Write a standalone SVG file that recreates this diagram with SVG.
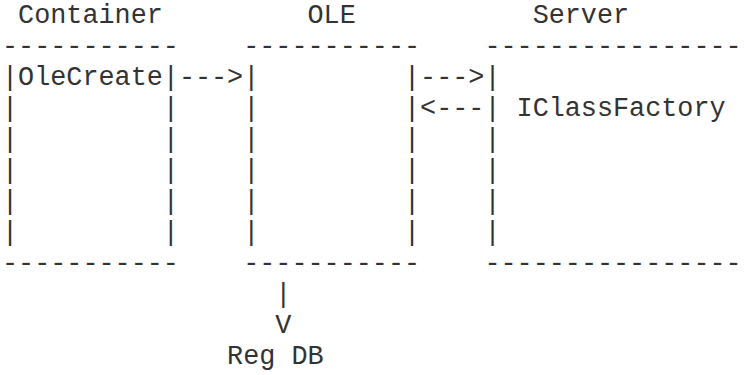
<svg xmlns="http://www.w3.org/2000/svg" width="746" height="375" viewBox="0 0 746 375">
<style>
  text { font-family: "Liberation Mono", "Courier New", monospace; font-size: 26.8px; fill: #333; white-space: pre; }
</style>
<rect width="746" height="375" fill="#ffffff"/>
<g id="container">
  <text x="18.08" y="23">Container</text>
  <text x="2" y="54">-----------</text>
  <text x="2" y="85">|OleCreate|</text>
  <text x="2" y="116">|</text><text x="162.8" y="116">|</text>
  <text x="2" y="147">|</text><text x="162.8" y="147">|</text>
  <text x="2" y="178">|</text><text x="162.8" y="178">|</text>
  <text x="2" y="209">|</text><text x="162.8" y="209">|</text>
  <text x="2" y="240">|</text><text x="162.8" y="240">|</text>
  <text x="2" y="271">-----------</text>
</g>
<g id="ole">
  <text x="307.52" y="23">OLE</text>
  <text x="243.2" y="54">-----------</text>
  <text x="243.2" y="85">|</text><text x="404" y="85">|</text>
  <text x="243.2" y="116">|</text><text x="404" y="116">|</text>
  <text x="243.2" y="147">|</text><text x="404" y="147">|</text>
  <text x="243.2" y="178">|</text><text x="404" y="178">|</text>
  <text x="243.2" y="209">|</text><text x="404" y="209">|</text>
  <text x="243.2" y="240">|</text><text x="404" y="240">|</text>
  <text x="243.2" y="271">-----------</text>
</g>
<g id="server">
  <text x="532.64" y="23">Server</text>
  <text x="484.4" y="54">----------------</text>
  <text x="484.4" y="85">|</text>
  <text x="484.4" y="116">|</text>
  <text x="516.56" y="116">IClassFactory</text>
  <text x="484.4" y="147">|</text>
  <text x="484.4" y="178">|</text>
  <text x="484.4" y="209">|</text>
  <text x="484.4" y="240">|</text>
  <text x="484.4" y="271">----------------</text>
</g>
<g id="regdb">
  <text x="227.12" y="364">Reg DB</text>
</g>
<g id="connectors">
  <text x="178.88" y="85">---&gt;</text>
  <text x="420.08" y="85">---&gt;</text>
  <text x="420.08" y="116">&lt;---</text>
  <text x="275.36" y="302">|</text>
  <text x="275.36" y="333">V</text>
</g>
</svg>
